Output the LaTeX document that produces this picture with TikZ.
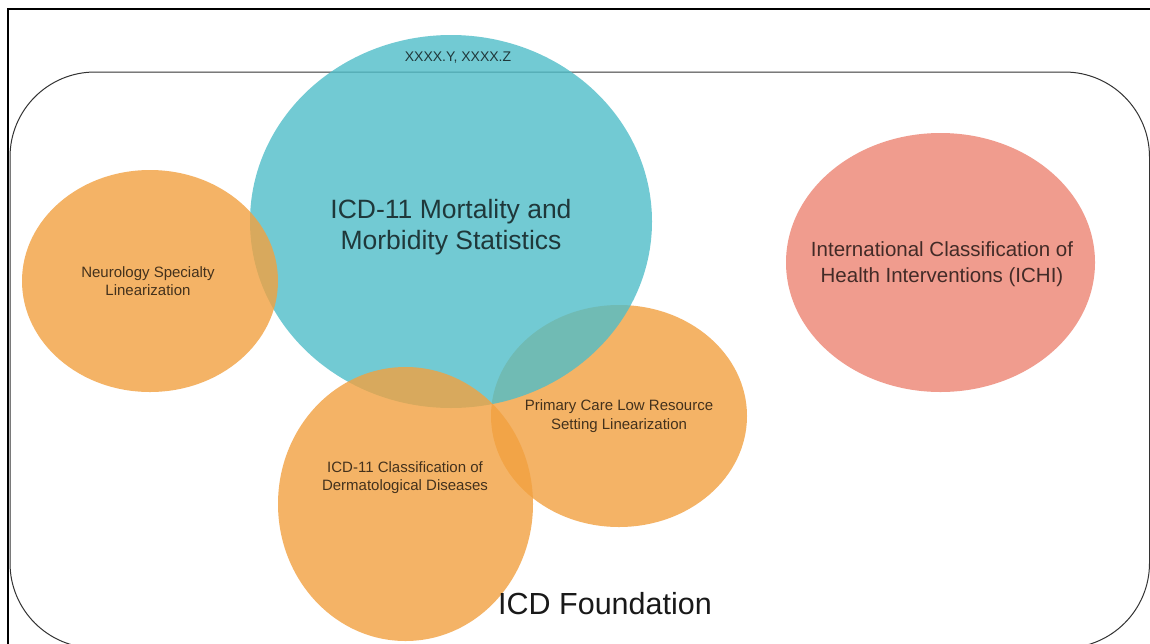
\documentclass[tikz,border=0pt]{standalone}
\usepackage{fontspec}
\setmainfont{Liberation Sans}
\usetikzlibrary{shapes.geometric}
\definecolor{orangeF}{HTML}{F2A140}
\definecolor{tealF}{HTML}{4FBDC8}
\definecolor{redF}{HTML}{EC8372}
\definecolor{frameC}{HTML}{333333}
\tikzset{
  blob/.style={ellipse, draw=none, inner sep=0pt, fill opacity=0.8},
  orangeblob/.style={blob, fill=orangeF},
  tealblob/.style={blob, fill=tealF},
  redblob/.style={blob, fill=redF},
  inlabel/.style={align=center, inner sep=0pt, text=black, text opacity=0.72},
  small/.style={inlabel, font=\fontsize{15}{18.5}\selectfont},
}
\begin{document}
\begin{tikzpicture}[x=1pt, y=-1pt]
\useasboundingbox (0,0) rectangle (1150,643);
\clip (0,0) rectangle (1150,643);
\fill[white] (0,0) rectangle (1150,643);
% outer frame
\draw[black, line width=1.4pt] (8,9) rectangle (1200,700);
% foundation container
\draw[frameC, line width=1pt, rounded corners=85pt] (10,72) rectangle (1149.5,648);
% ellipses
\node[orangeblob, minimum width=256pt, minimum height=222pt] (pc) at (619,416) {};
\node[tealblob, minimum width=402pt, minimum height=373pt] (mms) at (451,221.5) {};
\node[orangeblob, minimum width=256pt, minimum height=222pt] (neuro) at (150,281) {};
\node[orangeblob, minimum width=255pt, minimum height=274pt] (derm) at (405.5,504) {};
\node[redblob, minimum width=309pt, minimum height=259pt, fill opacity=1, fill={rgb,255:red,240;green,156;blue,142}] (ichi) at (940.5,262.5) {};
% texts
\node[inlabel, font=\fontsize{14}{16}\selectfont] (codes) at (458,58) {XXXX.Y, XXXX.Z};
\node[inlabel, font=\fontsize{26.5}{30.5}\selectfont] (mmsT) at (451,227) {ICD-11 Mortality and\\Morbidity Statistics};
\node[small] (neuroT) at (148,281) {Neurology Specialty\\Linearization};
\node[small] (dermT) at (405,477.5) {ICD-11 Classification of\\Dermatological Diseases};
\node[small] (pcT) at (619,416) {Primary Care Low Resource\\Setting Linearization};
\node[inlabel, font=\fontsize{20.5}{26}\selectfont] (ichiT) at (942,264) {International Classification of\\Health Interventions (ICHI)};
\node[inlabel, text opacity=0.9, font=\fontsize{30.5}{34}\selectfont] (found) at (605,604) {ICD Foundation};
\end{tikzpicture}
\end{document}
